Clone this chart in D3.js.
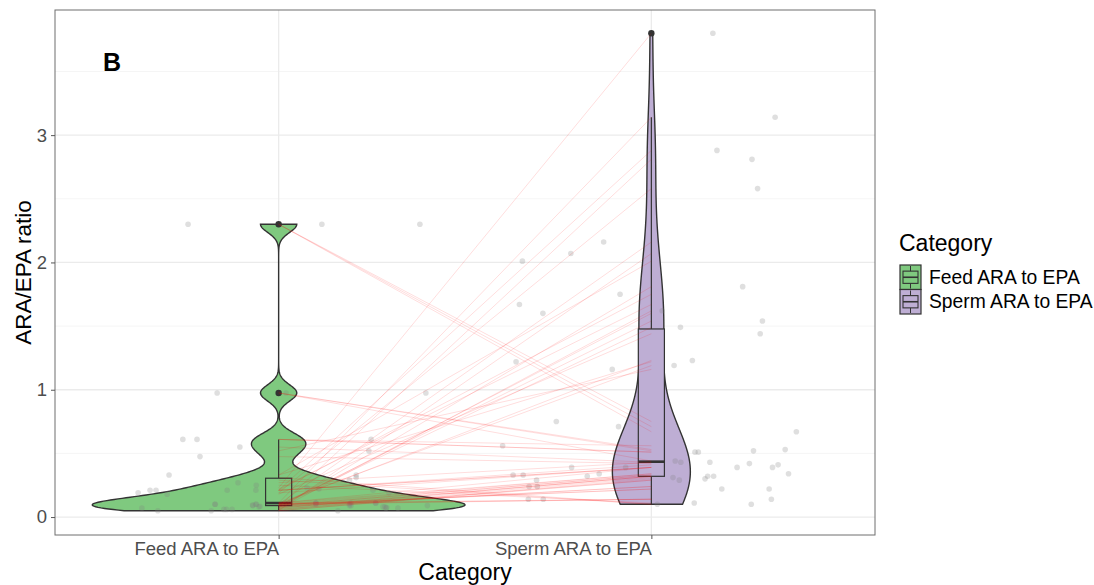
<!DOCTYPE html>
<html><head><meta charset="utf-8">
<script src="https://cdn.jsdelivr.net/npm/d3@7"></script>
<style>
body{margin:0;background:#fff}
text{font-family:"Liberation Sans",Arial,Helvetica,sans-serif}
</style>
</head><body>
<svg id="chart" width="1094" height="585"></svg>
<script>
// ---------------- data ----------------
const categories = ["Feed ARA to EPA", "Sperm ARA to EPA"];
const fillColors = ["#7FC97F", "#BEAED4"];
// paired observations: feedValues[i] is linked to spermValues[i]
const feedValues = [2.30, 2.30, 2.30, 0.975, 0.975, 0.975, 0.61, 0.61, 0.61, 0.55,
  0.52, 0.475, 0.33, 0.33, 0.27, 0.23, 0.22, 0.21, 0.21, 0.21,
  0.21, 0.21, 0.19, 0.19, 0.18, 0.11, 0.11, 0.11, 0.10, 0.10,
  0.09, 0.09, 0.09, 0.08, 0.08, 0.07, 0.07, 0.07, 0.06, 0.06,
  0.05, 0.05, 0.05, 0.06, 0.075, 0.08, 0.085, 0.09, 0.095, 0.10,
  0.10, 0.10, 0.105, 0.11, 0.11, 0.25, 0.29, 0.31];
const feedJitter = [-0.243, 0.116, 0.379, -0.165, 0.395, 0.02, -0.257, -0.219, 0.248, -0.104,
  0.242, -0.211, -0.294, 0.208, -0.109, 0.076, 0.108, -0.345, -0.329, -0.138,
  -0.061, 0.253, -0.377, 0.296, -0.299, 0.100, 0.194, 0.261, -0.171, -0.061,
  -0.069, 0.194, 0.399, -0.053, 0.285, -0.367, 0.288, 0.320, -0.147, -0.125,
  -0.324, -0.181, 0.159, -0.140, 0.29, 0.28, -0.05, 0.19, -0.07, -0.17,
  0.10, -0.06, 0.19, 0.26, 0.10, -0.06, 0.19, 0.208];
const spermValues = [0.75, 0.71, 0.67, 0.53, 0.52, 0.44, 0.56, 0.51, 0.51, 0.43,
  1.16, 0.42, 2.01, 1.22, 0.43, 3.80, 1.67, 0.41, 2.88, 0.39,
  1.75, 0.39, 2.58, 0.39, 1.44, 0.39, 3.14, 0.34, 2.16, 0.34,
  1.54, 0.33, 0.33, 2.81, 0.32, 0.32, 1.81, 0.32, 0.31, 1.62,
  0.30, 0.29, 2.07, 0.29, 1.60, 0.24, 0.24, 1.49, 0.22, 0.22,
  1.23, 0.14, 0.14, 0.14, 1.19, 0.11, 0.10, 0.10];
const spermJitter = [-0.255, -0.088, 0.389, 0.359, 0.274, 0.064, -0.399, 0.117, 0.126, 0.157,
  -0.105, 0.263, -0.346, -0.363, 0.079, 0.165, -0.354, 0.340, 0.176, -0.214,
  -0.084, -0.069, 0.285, 0.325, 0.292, 0.230, 0.332, -0.140, -0.128, 0.368,
  0.298, -0.371, -0.344, 0.270, -0.172, 0.151, 0.245, 0.167, 0.058, 0.029,
  0.144, -0.308, -0.216, 0.075, -0.291, -0.328, -0.306, 0.078, 0.189, 0.316,
  0.110, -0.330, -0.290, 0.322, 0.061, 0.115, 0.268, 0.016];
const yTicks = [0, 1, 2, 3];
const yMinorTicks = [0.5, 1.5, 2.5, 3.5];
const yDomain = [-0.141, 3.983];
const panelTag = "B";
const xTitle = "Category", yTitle = "ARA/EPA ratio", legendTitle = "Category";

// ---------------- layout ----------------
const P = {left: 55, right: 875, top: 10, bottom: 535};
const svg = d3.select("#chart");
const x = d3.scalePoint().domain(categories).range([P.left, P.right]).padding(0.6);
const y = d3.scaleLinear().domain(yDomain).range([P.bottom, P.top]);
const step = x.step();
const violinWidth = 1.0, boxWidth = 0.07;

// grid
const g = svg.append("g");
g.selectAll(".minor").data(yMinorTicks).join("line")
  .attr("x1", P.left).attr("x2", P.right).attr("y1", d => y(d)).attr("y2", d => y(d))
  .attr("stroke", "#F3F3F3").attr("stroke-width", 0.8);
g.selectAll(".major").data(yTicks).join("line")
  .attr("x1", P.left).attr("x2", P.right).attr("y1", d => y(d)).attr("y2", d => y(d))
  .attr("stroke", "#EBEBEB").attr("stroke-width", 1.3);
g.selectAll(".vmajor").data(categories).join("line")
  .attr("x1", d => x(d)).attr("x2", d => x(d)).attr("y1", P.top).attr("y2", P.bottom)
  .attr("stroke", "#EBEBEB").attr("stroke-width", 1.3);

// ---------------- stats ----------------
function kde(values) {
  const s = values.slice().sort(d3.ascending);
  const n = s.length;
  const sd = d3.deviation(s);
  const iqr = d3.quantileSorted(s, 0.75) - d3.quantileSorted(s, 0.25);
  const bw = 0.9 * Math.min(sd, iqr / 1.34) * Math.pow(n, -0.2);
  const min = s[0], max = s[n - 1];
  const pts = [];
  for (let i = 0; i < 512; i++) {
    const t = min + (max - min) * i / 511;
    let sum = 0;
    for (const v of s) { const z = (t - v) / bw; sum += Math.exp(-0.5 * z * z); }
    pts.push([t, sum / (n * bw * Math.sqrt(2 * Math.PI))]);
  }
  return pts;
}
function boxStats(values) {
  const s = values.slice().sort(d3.ascending);
  const q1 = d3.quantileSorted(s, 0.25), med = d3.quantileSorted(s, 0.5), q3 = d3.quantileSorted(s, 0.75);
  const iqr = q3 - q1;
  const inside = s.filter(v => v >= q1 - 1.5 * iqr && v <= q3 + 1.5 * iqr);
  const out = Array.from(new Set(s.filter(v => v < q1 - 1.5 * iqr || v > q3 + 1.5 * iqr)));
  return {q1, med, q3, lo: d3.min(inside), hi: d3.max(inside), out};
}

const groups = [feedValues, spermValues];
const dens = groups.map(kde);
const maxD = d3.max(dens, d => d3.max(d, p => p[1]));

// violins
dens.forEach((pts, i) => {
  const cx = x(categories[i]);
  const hw = d => d / maxD * violinWidth / 2 * step;
  const left = pts.map(p => [cx - hw(p[1]), y(p[0])]);
  const right = pts.slice().reverse().map(p => [cx + hw(p[1]), y(p[0])]);
  svg.append("path").attr("d", d3.line()(left.concat(right)) + "Z")
    .attr("fill", fillColors[i]).attr("stroke", "#333333").attr("stroke-width", 1.4);
});

// boxplots
groups.forEach((vals, i) => {
  const b = boxStats(vals);
  const cx = x(categories[i]);
  const bw = boxWidth * step / 2;
  const gb = svg.append("g").attr("stroke", "#333333").attr("stroke-width", 1.2);
  gb.append("line").attr("x1", cx).attr("x2", cx).attr("y1", y(b.q3)).attr("y2", y(b.hi));
  gb.append("line").attr("x1", cx).attr("x2", cx).attr("y1", y(b.q1)).attr("y2", y(b.lo));
  gb.append("rect").attr("x", cx - bw).attr("width", 2 * bw)
    .attr("y", y(b.q3)).attr("height", y(b.q1) - y(b.q3)).attr("fill", fillColors[i]);
  gb.append("line").attr("x1", cx - bw).attr("x2", cx + bw).attr("y1", y(b.med)).attr("y2", y(b.med))
    .attr("stroke-width", 2.6);
  gb.selectAll("circle").data(b.out).join("circle")
    .attr("cx", cx).attr("cy", d => y(d)).attr("r", 3.2).attr("fill", "#333333").attr("stroke", "none");
});

// jittered points
const pointData = [];
feedValues.forEach((v, i) => pointData.push([x(categories[0]) + feedJitter[i] * step, v]));
spermValues.forEach((v, i) => pointData.push([x(categories[1]) + spermJitter[i] * step, v]));
svg.append("g").selectAll("circle").data(pointData).join("circle")
  .attr("cx", d => d[0]).attr("cy", d => y(d[1])).attr("r", 2.8)
  .attr("fill", "#808080").attr("fill-opacity", 0.25);

// paired lines
svg.append("g").selectAll("line").data(feedValues.map((v, i) => [v, spermValues[i]])).join("line")
  .attr("x1", x(categories[0])).attr("x2", x(categories[1]))
  .attr("y1", d => y(d[0])).attr("y2", d => y(d[1]))
  .attr("stroke", "#FF0000").attr("stroke-opacity", 0.17).attr("stroke-width", 0.8);

// panel border
svg.append("rect").attr("x", P.left).attr("y", P.top).attr("width", P.right - P.left).attr("height", P.bottom - P.top)
  .attr("fill", "none").attr("stroke", "#6E6E6E").attr("stroke-width", 1);

// axes
const yAxis = svg.append("g").attr("transform", `translate(${P.left},0)`)
  .call(d3.axisLeft(y).tickValues(yTicks).tickSize(4).tickPadding(4).tickFormat(d3.format("d")));
const xAxis = svg.append("g").attr("transform", `translate(0,${P.bottom})`)
  .call(d3.axisBottom(x).tickSize(4).tickPadding(3));
[yAxis, xAxis].forEach(a => {
  a.select(".domain").remove();
  a.selectAll(".tick line").attr("stroke", "#555555");
  a.selectAll(".tick text").attr("fill", "#4D4D4D").style("font-size", "18.5px")
    .style("font-family", "'Liberation Sans', Arial, sans-serif");
});
xAxis.selectAll(".tick text").attr("text-anchor", "end");

// titles
svg.append("text").attr("x", (P.left + P.right) / 2).attr("y", 580).attr("text-anchor", "middle")
  .style("font-size", "23px").attr("fill", "#000").text(xTitle);
svg.append("text").attr("transform", `translate(31,${(P.top + P.bottom) / 2}) rotate(-90)`)
  .attr("text-anchor", "middle").style("font-size", "22.5px").attr("fill", "#000").text(yTitle);
svg.append("text").attr("x", 103).attr("y", 71).style("font-size", "25px").style("font-weight", "bold")
  .attr("fill", "#000").text(panelTag);

// legend
const lg = svg.append("g").attr("transform", "translate(899,0)");
lg.append("text").attr("x", 0).attr("y", 251).style("font-size", "23px").attr("fill", "#000").text(legendTitle);
categories.forEach((c, i) => {
  const ky = 265 + i * 24.5, kx = 1, kw = 21, kh = 24.5;
  const k = lg.append("g").attr("stroke", "#333333");
  k.append("rect").attr("x", kx).attr("y", ky).attr("width", kw).attr("height", kh)
    .attr("fill", fillColors[i]).attr("stroke-width", 1.2);
  k.append("rect").attr("x", kx + 3).attr("y", ky + kh * 0.25).attr("width", kw - 6).attr("height", kh * 0.5)
    .attr("fill", fillColors[i]).attr("stroke-width", 1.1);
  k.append("line").attr("x1", kx + 3).attr("x2", kx + kw - 3).attr("y1", ky + kh / 2).attr("y2", ky + kh / 2).attr("stroke-width", 1.6);
  k.append("line").attr("x1", kx + kw / 2).attr("x2", kx + kw / 2).attr("y1", ky + 1).attr("y2", ky + kh * 0.25);
  k.append("line").attr("x1", kx + kw / 2).attr("x2", kx + kw / 2).attr("y1", ky + kh * 0.75).attr("y2", ky + kh - 1);
  lg.append("text").attr("x", 30).attr("y", ky + kh / 2 + 6.5).style("font-size", "19.3px").attr("fill", "#000").text(c);
});
</script>
</body></html>
